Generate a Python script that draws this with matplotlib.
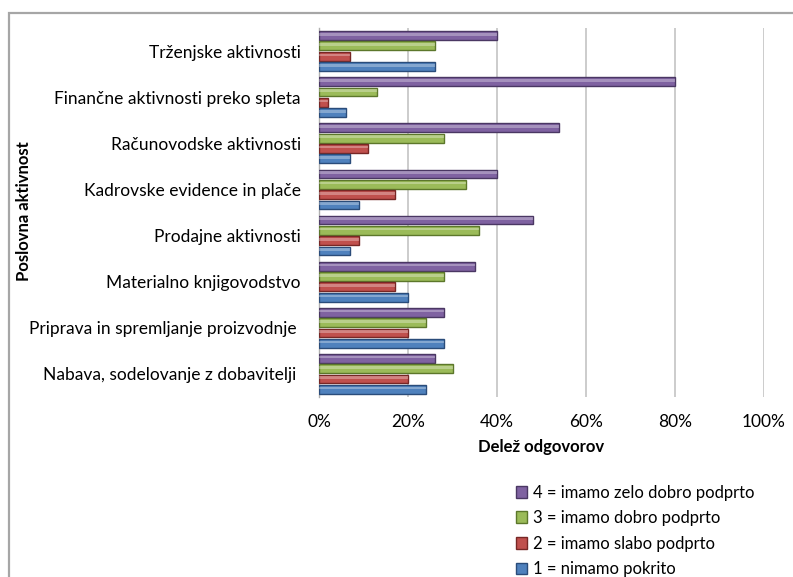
import matplotlib
matplotlib.use("Agg")
import matplotlib.pyplot as plt
import numpy as np
from matplotlib.patches import Rectangle

plt.rcParams['font.family'] = ['Lato', 'DejaVu Sans']

categories = [
    "Trženjske aktivnosti",
    "Finančne aktivnosti preko spleta",
    "Računovodske aktivnosti",
    "Kadrovske evidence in plače",
    "Prodajne aktivnosti",
    "Materialno knjigovodstvo",
    "Priprava in spremljanje proizvodnje ",
    "Nabava, sodelovanje z dobavitelji ",
]

series_labels = [
    "4 = imamo zelo dobro podprto",
    "3 = imamo dobro podprto",
    "2 = imamo slabo podprto",
    "1 = nimamo pokrito",
]

zelo_dobro = [40, 80, 54, 40, 48, 35, 28, 26]
dobro = [26, 13, 28, 33, 36, 28, 24, 30]
slabo = [7, 2, 11, 17, 9, 17, 20, 20]
nimamo = [26, 6, 7, 9, 7, 20, 28, 24]

series_values = [zelo_dobro, dobro, slabo, nimamo]
face_colors = ["#7F62A1", "#9BBB59", "#C0504D", "#4F81BD"]
edge_colors = ["#4A3763", "#5C772B", "#772725", "#2A4C7A"]

fig = plt.figure(figsize=(7.93, 5.77), dpi=100)
ax = fig.add_axes([0.4023, 0.312, 0.5612, 0.6395])

n = len(categories)
ypos = np.arange(n)[::-1]  # first category at the top
pitch = 0.224
bar_h = 0.19
offsets = [1.5 * pitch, 0.5 * pitch, -0.5 * pitch, -1.5 * pitch]

for vals, fc, ec, off, lab in zip(series_values, face_colors, edge_colors, offsets, series_labels):
    v = np.array(vals) / 100.0
    ax.barh(ypos + off, v, height=bar_h, color=fc, edgecolor=ec,
            linewidth=1.0, label=lab, zorder=3)
    # soft highlight along the upper part of each bar
    ax.barh(ypos + off + bar_h * 0.15, v, height=bar_h * 0.3,
            color="white", alpha=0.3, linewidth=0, zorder=4)

ax.set_xlim(0, 1.0)
ax.set_ylim(-0.5, n - 0.5)
ticks = np.arange(0, 1.01, 0.2)
ax.set_xticks(ticks)
ax.set_xticklabels([f"{int(round(t * 100))}%" for t in ticks])
ax.set_yticks(ypos)
ax.set_yticklabels(categories)
ax.tick_params(axis='both', length=0, labelsize=12.5, colors="#000000")
ax.tick_params(axis='y', pad=13)
ax.tick_params(axis='x', pad=12)

ax.grid(axis='x', color="#C8C8C8", linewidth=1.3, zorder=0)
for side in ["top", "right", "bottom"]:
    ax.spines[side].set_visible(False)
ax.spines["left"].set_color("#B0B0B0")
ax.spines["left"].set_linewidth(1.0)

ax.set_xlabel("Delež odgovorov", fontsize=12, fontweight="bold", labelpad=7)
fig.text(0.03, 1 - 211 / 577, "Poslovna aktivnost", rotation=90, fontsize=12,
         fontweight="bold", ha="center", va="center")

handles, labels = ax.get_legend_handles_labels()
fig.legend(handles, labels, loc="upper left", bbox_to_anchor=(0.642, 1 - 478 / 577),
           frameon=False, fontsize=12, handlelength=0.7, handleheight=0.7,
           handletextpad=0.35, labelspacing=0.57, borderaxespad=0)

# outer chart border
fig.patches.append(Rectangle((9 / 793, -0.05), 1.1, 1 - 12.5 / 577 + 0.05,
                             transform=fig.transFigure, fill=False,
                             edgecolor="#A6A6A6", linewidth=1.6))

fig.savefig("out.png", dpi=100)
